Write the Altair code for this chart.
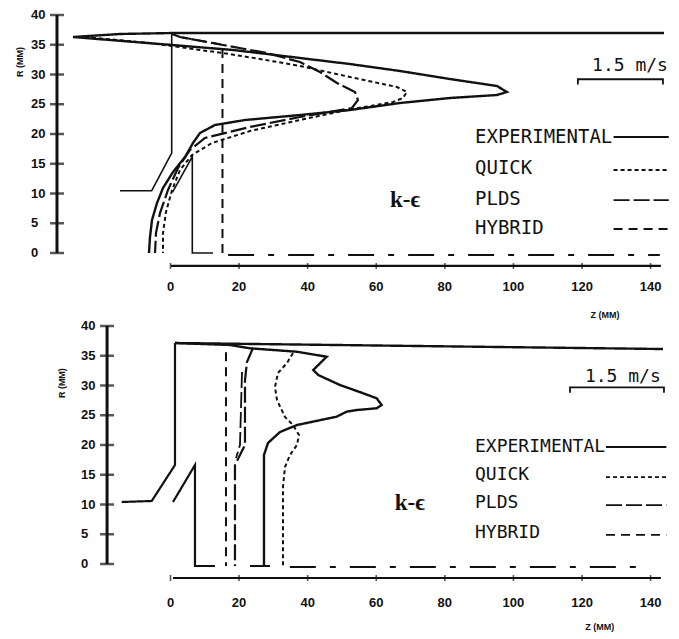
import altair as alt
import pandas as pd

INK = "#111111"

# ---------------- axis ticks and labels ----------------
R_TICKS = [0, 5, 10, 15, 20, 25, 30, 35, 40]
Z_TICKS = [0, 20, 40, 60, 80, 100, 120, 140]
SERIES = ["EXPERIMENTAL", "QUICK", "PLDS", "HYBRID"]
SCALE_TEXT = "1.5 m/s"
MODEL_TEXT = "k-\u03f5"

# ---------------- top panel (Z mm, R mm) ----------------
T_EXP_Z = [-6.27, -5.98, -5.39, -3.94, -2.19, 0.73, 4.23, 6.56, 8.60, 12.97, 21.72, 37.76, 52.33, 66.91,
           81.49, 95.19, 98.10, 95.19, 81.49, 66.91, 52.33, 37.76, 28.13, 18.22, 0.44, -28.43, -14.72, 0.44]
T_EXP_R = [0, 2.69, 5.55, 8.40, 10.92, 13.61, 16.13, 18.49, 20.17, 21.51, 22.35, 23.19, 24.03, 25.21,
           26.05, 26.55, 27.06, 28.07, 29.24, 30.59, 31.76, 32.77, 33.45, 34.12, 34.96, 36.30, 36.81, 36.97]
T_QUICK_Z = [-24.93, -5.98, 8.60, 15.31, 26.09, 37.76, 52.33, 66.03, 68.95, 67.78, 64.87, 51.46, 37.76,
             23.18, 12.10, 6.27, 2.77, 0.44, -1.31, -2.19, -2.19]
T_QUICK_R = [36.30, 35.29, 34.12, 33.61, 32.61, 31.43, 29.58, 27.90, 27.06, 26.05, 25.38, 24.03, 22.35,
             20.50, 18.49, 16.47, 13.95, 10.59, 6.89, 3.36, 0]
T_PLDS_Z = [0.44, 2.77, 15.31, 28.13, 37.76, 43.59, 48.54, 53.79, 54.66, 52.92, 37.76, 23.18, 10.06,
            5.69, 2.19, -0.73, -3.06, -4.23, -4.52]
T_PLDS_R = [36.81, 36.30, 34.96, 33.61, 32.10, 30.42, 28.57, 27.06, 25.71, 24.37, 22.86, 21.18, 19.33,
            17.31, 14.29, 10.59, 6.72, 3.36, 0]
T_HYB_Z = [15.16, 15.16, 2.8]
T_HYB_R = [0, 35.0, 36.3]
T_WALL_TOP_Z = [0.44, 143.9]
T_WALL_TOP_R = [36.97, 36.97]
T_WALL_LEFT_Z = [0.35, 0.35, -5.48, -14.72]
T_WALL_LEFT_R = [36.97, 16.81, 10.47, 10.47]
T_LIP_Z = [0.58, 6.36, 6.36, 12.39]
T_LIP_R = [10.2, 16.18, 0, 0]
T_CENTER_Z = [16.8, 142.7]
T_CENTER_R = [-0.35, -0.35]
T_BAR_Z = [118.8, 118.8, 143.6, 143.6]
T_BAR_R = [28.3, 29.2, 29.2, 28.3]

# ---------------- bottom panel (Z mm, R mm) ----------------
B_EXP_Z = [27.26, 27.26, 28.43, 31.92, 36.89, 48.45, 51.37, 54.29, 60.12, 61.57, 60.12, 56.21, 49.42,
           43.09, 41.63, 45.54, 36.79, 23.18, 17.35, 1.31]
B_EXP_R = [-0.34, 18.32, 20.34, 22.18, 23.36, 24.76, 25.60, 25.88, 26.17, 26.72, 27.85, 28.69, 30.08,
           31.76, 32.61, 34.84, 35.68, 36.25, 36.81, 37.14]
B_QUICK_Z = [35.71, 33.97, 31.34, 30.47, 31.05, 33.38, 35.71, 37.46, 36.88, 34.84, 33.38, 32.80, 32.80]
B_QUICK_R = [35.46, 33.78, 32.10, 29.75, 27.56, 24.71, 23.36, 21.68, 20.0, 18.32, 16.30, 12.94, -0.34]
B_PLDS_Z = [24.05, 22.30, 21.72, 21.72, 20.26, 18.80, 18.80]
B_PLDS_R = [36.30, 33.95, 30.92, 20.0, 18.32, 16.64, -0.34]
B_PLDS2_Z = [20.85, 20.26, 19.10]
B_PLDS2_R = [32.27, 20.0, 17.8]
B_HYB_Z = [16.18, 16.18]
B_HYB_R = [35.6, -0.34]
B_WALL_TOP_Z = [1.31, 143.6]
B_WALL_TOP_R = [37.14, 36.13]
B_WALL_LEFT_Z = [1.31, 1.31, -5.48, -14.23]
B_WALL_LEFT_R = [37.14, 16.64, 10.59, 10.42]
B_LIP_Z = [0.73, 7.14, 7.14, 12.97]
B_LIP_R = [10.42, 16.64, -0.34, -0.34]
B_FOOT_Z = [23.18, 29.0]
B_FOOT_R = [-0.34, -0.34]
B_CENTER_Z = [34.8, 137.8]
B_CENTER_R = [-0.5, -0.5]
B_BAR_Z = [116.5, 116.5, 143.9, 143.9]
B_BAR_R = [28.8, 29.7, 29.7, 28.8]

# legend sample lines and label rows
T_LEG_R = [19.5, 13.95, 8.9, 4.03]
T_LEG_TXT_R = [19.5, 14.29, 9.08, 4.2]
B_LEG_R = [19.66, 14.6, 9.9, 4.9]
B_LEG_TXT_R = [19.66, 14.96, 10.25, 5.21]

DASH = {
    "solid": [1, 0],
    "QUICK": [4, 3],
    "PLDS": [16, 4],
    "HYBRID": [9, 6],
    "center": [26, 14, 6, 14],
}
LEG_STYLE = ["solid", "QUICK", "PLDS", "HYBRID"]

rows = []


def add(panel, seg, style, zs, rs, w):
    for i, (z, r) in enumerate(zip(zs, rs)):
        rows.append(dict(panel=panel, seg=f"{panel}-{seg}", style=style, i=i, z=z, R=r, w=w))


add("top", "exp", "solid", T_EXP_Z, T_EXP_R, 2.4)
add("top", "quick", "QUICK", T_QUICK_Z, T_QUICK_R, 2.0)
add("top", "plds", "PLDS", T_PLDS_Z, T_PLDS_R, 2.2)
add("top", "hyb", "HYBRID", T_HYB_Z, T_HYB_R, 2.0)
add("top", "walltop", "solid", T_WALL_TOP_Z, T_WALL_TOP_R, 2.4)
add("top", "wallleft", "solid", T_WALL_LEFT_Z, T_WALL_LEFT_R, 1.6)
add("top", "lip", "solid", T_LIP_Z, T_LIP_R, 1.6)
add("top", "center", "center", T_CENTER_Z, T_CENTER_R, 2.0)
add("top", "bar", "solid", T_BAR_Z, T_BAR_R, 1.8)

add("bot", "exp", "solid", B_EXP_Z, B_EXP_R, 2.4)
add("bot", "quick", "QUICK", B_QUICK_Z, B_QUICK_R, 2.0)
add("bot", "plds", "PLDS", B_PLDS_Z, B_PLDS_R, 2.2)
add("bot", "plds2", "PLDS", B_PLDS2_Z, B_PLDS2_R, 1.8)
add("bot", "hyb", "HYBRID", B_HYB_Z, B_HYB_R, 2.0)
add("bot", "walltop", "solid", B_WALL_TOP_Z, B_WALL_TOP_R, 2.4)
add("bot", "wallleft", "solid", B_WALL_LEFT_Z, B_WALL_LEFT_R, 2.2)
add("bot", "lip", "solid", B_LIP_Z, B_LIP_R, 2.2)
add("bot", "foot", "solid", B_FOOT_Z, B_FOOT_R, 2.2)
add("bot", "center", "center", B_CENTER_Z, B_CENTER_R, 2.0)
add("bot", "bar", "solid", B_BAR_Z, B_BAR_R, 1.8)

for k, (style, r) in enumerate(zip(LEG_STYLE, T_LEG_R)):
    add("top", f"leg{k}", style, [129.2, 145.3], [r, r], 1.8)
for k, (style, r) in enumerate(zip(LEG_STYLE, B_LEG_R)):
    add("bot", f"leg{k}", style, [127.0, 144.6], [r, r], 1.8)

lines_df = pd.DataFrame(rows)

XS = alt.Scale(domain=[0, 140], range=[162.5, 642.6], nice=False, zero=False)

PANELS = {
    "top": dict(
        ys=alt.Scale(domain=[0, 40], range=[245, 7], nice=False, zero=False),
        yaxis_z=-33.1, xaxis_r=-2.18, xaxis_z=[0.15, 143.0], xlab_r=-5.7,
        ztitle=(126.7, -10.4), rtitle=(-43.9, 32.1), leg_r=T_LEG_TXT_R, leg_z=88.8,
        leg_size=19, bar_text=(134.0, 31.4), model=(68.4, 8.9),
    ),
    "bot": dict(
        ys=alt.Scale(domain=[0, 40], range=[556, 318], nice=False, zero=False),
        yaxis_z=-18.5, xaxis_r=-2.35, xaxis_z=[0.73, 143.0], xlab_r=-6.55,
        ztitle=(125.2, -10.6), rtitle=(-31.6, 30.4), leg_r=B_LEG_TXT_R, leg_z=88.8,
        leg_size=18, bar_text=(131.9, 31.4), model=(69.8, 10.25),
    ),
}


def X(field="z"):
    return alt.X(f"{field}:Q", scale=XS, axis=None)


layers = []
for p, cfg in PANELS.items():
    ys = cfg["ys"]

    def Y(field="R", ys=ys):
        return alt.Y(f"{field}:Q", scale=ys, axis=None)

    layers.append(
        alt.Chart(lines_df[lines_df.panel == p]).mark_line(color=INK, strokeCap="butt").encode(
            x=X(), y=Y(), detail="seg:N", order="i:Q",
            strokeDash=alt.StrokeDash("style:N", scale=alt.Scale(domain=list(DASH.keys()), range=list(DASH.values())), legend=None),
            strokeWidth=alt.StrokeWidth("w:Q", scale=None, legend=None),
        )
    )
    # y axis
    layers.append(
        alt.Chart(pd.DataFrame({"z": [cfg["yaxis_z"]], "R": [0], "R2": [40]})).mark_rule(color=INK, strokeWidth=3).encode(
            x=X(), y=Y(), y2="R2:Q")
    )
    ytick_df = pd.DataFrame({"z": [cfg["yaxis_z"]] * len(R_TICKS), "R": R_TICKS, "lab": [str(v) for v in R_TICKS]})
    layers.append(
        alt.Chart(ytick_df).mark_tick(orient="horizontal", size=14, thickness=2.5, color=INK).encode(x=X(), y=Y())
    )
    layers.append(
        alt.Chart(ytick_df).mark_text(align="left", baseline="middle", dx=-26, font="Liberation Sans",
                                      fontWeight="bold", fontSize=13, color=INK).encode(x=X(), y=Y(), text="lab:N")
    )
    # x axis
    layers.append(
        alt.Chart(pd.DataFrame({"z": [cfg["xaxis_z"][0]], "z2": [cfg["xaxis_z"][1]], "R": [cfg["xaxis_r"]]}))
        .mark_rule(color=INK, strokeWidth=2.2).encode(x=X(), x2="z2:Q", y=Y())
    )
    xtick_df = pd.DataFrame({"z": Z_TICKS, "R": [cfg["xaxis_r"]] * len(Z_TICKS),
                             "Rl": [cfg["xlab_r"]] * len(Z_TICKS), "lab": [str(v) for v in Z_TICKS]})
    layers.append(
        alt.Chart(xtick_df).mark_tick(orient="vertical", size=6, thickness=1.6, color=INK).encode(x=X(), y=Y())
    )
    layers.append(
        alt.Chart(xtick_df).mark_text(align="center", baseline="middle", font="Liberation Sans",
                                      fontWeight="bold", fontSize=13, color=INK).encode(x=X(), y=Y("Rl"), text="lab:N")
    )
    # axis titles
    layers.append(
        alt.Chart(pd.DataFrame({"z": [cfg["ztitle"][0]], "R": [cfg["ztitle"][1]], "t": ["Z (MM)"]}))
        .mark_text(align="center", baseline="middle", font="Liberation Sans", fontWeight="bold", fontSize=9, color=INK)
        .encode(x=X(), y=Y(), text="t:N")
    )
    layers.append(
        alt.Chart(pd.DataFrame({"z": [cfg["rtitle"][0]], "R": [cfg["rtitle"][1]], "t": ["R (MM)"]}))
        .mark_text(align="center", baseline="middle", angle=270, font="Liberation Sans", fontWeight="bold",
                   fontSize=9, color=INK)
        .encode(x=X(), y=Y(), text="t:N")
    )
    # legend labels
    layers.append(
        alt.Chart(pd.DataFrame({"z": [cfg["leg_z"]] * 4, "R": cfg["leg_r"], "t": SERIES}))
        .mark_text(align="left", baseline="middle", font="DejaVu Sans Mono", fontSize=cfg["leg_size"], color=INK)
        .encode(x=X(), y=Y(), text="t:N")
    )
    # scale bar text
    layers.append(
        alt.Chart(pd.DataFrame({"z": [cfg["bar_text"][0]], "R": [cfg["bar_text"][1]], "t": [SCALE_TEXT]}))
        .mark_text(align="center", baseline="middle", font="DejaVu Sans Mono", fontSize=18, color=INK)
        .encode(x=X(), y=Y(), text="t:N")
    )
    # model label
    layers.append(
        alt.Chart(pd.DataFrame({"z": [cfg["model"][0]], "R": [cfg["model"][1]], "t": [MODEL_TEXT]}))
        .mark_text(align="center", baseline="middle", font="Liberation Serif", fontWeight="bold", fontSize=23,
                   color=INK)
        .encode(x=X(), y=Y(), text="t:N")
    )

chart = (
    alt.layer(*layers)
    .resolve_scale(y="independent")
    .properties(width=663, height=631, autosize=alt.AutoSizeParams(type="none"), padding=0, background="white")
    .configure_view(stroke=None)
)

chart.save("out.html", embed_options={"renderer": "svg", "actions": False})
